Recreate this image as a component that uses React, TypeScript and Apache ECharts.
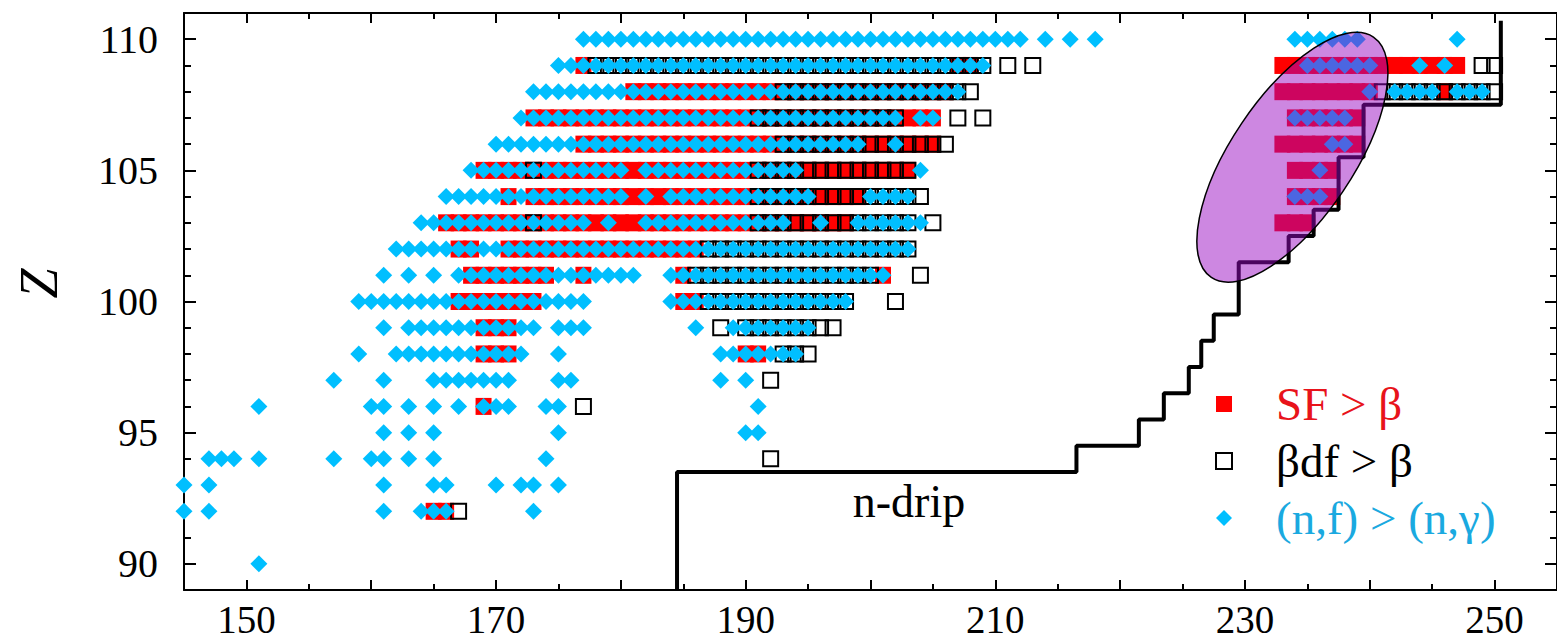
import React, { useEffect, useRef } from "react";
import * as echarts from "echarts";

// ---- axes ----
const X_MIN = 145;
const X_MAX = 255;
const Y_MIN = 89;
const Y_MAX = 111;
const xMajorTicks = [150, 160, 170, 180, 190, 200, 210, 220, 230, 240, 250];
const xMinorTicks = [155, 165, 175, 185, 195, 205, 215, 225, 235, 245];
const xTickLabels = [150, 170, 190, 210, 230, 250];
const yMajorTicks = [90, 95, 100, 105, 110];
const yMinorTicks = [90, 91, 92, 93, 94, 95, 96, 97, 98, 99, 100, 101, 102, 103, 104, 105, 106, 107, 108, 109, 110];
const yTickLabels = [90, 95, 100, 105, 110];

// ---- data: per Z row, list of N values (a-b = every N from a to b) ----
const sfRows: [number, string][] = [
  [109, "177,207,208,233-247"],
  [108, "181-206,233-240,246"],
  [107, "173-205,234-239"],
  [106, "177-205,233-239"],
  [105, "169-203,234-237"],
  [104, "171,173-199,234-237"],
  [103, "166-198,233-235"],
  [102, "167,168,171-186"],
  [101, "168-174,177,185,201"],
  [100, "167-173,185,186"],
  [99, "169-171"],
  [98, "169-171,190,191"],
  [96, "169"],
  [92, "165,166"],
];

const bdfRows: [number, string][] = [
  [109, "178-209,211,213,249,250"],
  [108, "193-208,241-250"],
  [107, "191-202,207,209"],
  [106, "193-206"],
  [105, "173,191-203"],
  [104, "191-204"],
  [103, "173,191-203,205"],
  [102, "187-203"],
  [101, "186-200,204"],
  [100, "187-198,202"],
  [99, "188,190-197"],
  [98, "193-195"],
  [97, "192"],
  [96, "177"],
  [94, "192"],
  [92, "167"],
];

const nfRows: [number, string][] = [
  [110, "177-212,214,216,218,234-239,247"],
  [109, "175-209,235-240,244,246"],
  [108, "173-207,240,242-245,247-249"],
  [107, "172-202,204,205,234-238"],
  [106, "170-199,202,237,238"],
  [105, "168-180,182-194,204,236"],
  [104, "166-180,182,184-195,200-203,234-236"],
  [103, "164-177,179,182-193,196,199-204"],
  [102, "162-203"],
  [101, "161,163,165,167-181,184-201"],
  [100, "159-177,184-198"],
  [99, "161,163-173,175-177,186,189-195"],
  [98, "159,162-172,175,188-194"],
  [97, "157,161,165-171,175,176,188,190"],
  [96, "151,160,161,163,165,167,169-171,174,175,191"],
  [95, "161,163,165,175,190,191"],
  [94, "147-149,151,157,160,161,163,165,174"],
  [93, "145,147,161,165,166,170,172,173,175"],
  [92, "145,147,161,164-166,173"],
  [90, "151"],
];

// neutron drip line (step outline)
const dripN = [184.5, 184.5, 216.5, 216.5, 221.5, 221.5, 223.5, 223.5, 225.5, 225.5, 226.5, 226.5, 227.5, 227.5, 229.5, 229.5, 233.5, 233.5, 235.5, 235.5, 237.5, 237.5, 239.5, 239.5, 250.5, 250.5];
const dripZ = [89, 93.5, 93.5, 94.5, 94.5, 95.5, 95.5, 96.5, 96.5, 97.5, 97.5, 98.5, 98.5, 99.5, 99.5, 101.5, 101.5, 102.5, 102.5, 103.5, 103.5, 105.5, 105.5, 107.5, 107.5, 110.7];

// highlighted region (ellipse centre in N, Z)
const ellipseCenter = [233.8, 105.5];

const legendNames = ["SF > β", "βdf > β", "(n,f) > (n,γ)"];
const legendColors = ["#e8131b", "#000000", "#1aa9e0"];

const SERIF = '"Liberation Serif", "Times New Roman", serif';

function expand(s: string): number[] {
  const out: number[] = [];
  s.split(",").forEach((part) => {
    const p = part.trim();
    if (!p) return;
    if (p.includes("-")) {
      const [a, b] = p.split("-").map(Number);
      for (let n = a; n <= b; n++) out.push(n);
    } else out.push(Number(p));
  });
  return out;
}

function toPoints(rows: [number, string][]): number[][] {
  const pts: number[][] = [];
  rows.forEach(([z, s]) => expand(s).forEach((n) => pts.push([n, z])));
  return pts;
}

export default function App() {
  const ref = useRef<HTMLDivElement>(null);

  useEffect(() => {
    document.body.style.margin = "0";
    if (!ref.current) return;
    const chart = echarts.init(ref.current, null, { renderer: "svg" });

    const axisLineStyle = { color: "#000", width: 2 };
    const tickLine = { color: "#000", width: 2 };
    const baseX = {
      type: "value" as const,
      min: X_MIN,
      max: X_MAX,
      splitLine: { show: false },
      axisLabel: { show: false },
    };
    const baseY = {
      type: "value" as const,
      min: Y_MIN,
      max: Y_MAX,
      splitLine: { show: false },
      axisLabel: { show: false },
    };

    const option: any = {
      animation: false,
      grid: { left: 184, top: 13, width: 1375, height: 577, containLabel: false },
      xAxis: [
        {
          ...baseX,
          position: "bottom",
          axisLine: { show: true, lineStyle: axisLineStyle },
          axisTick: { show: true, inside: true, length: 10, customValues: xMajorTicks, lineStyle: tickLine },
          axisLabel: {
            show: true,
            customValues: xTickLabels,
            fontSize: 39,
            lineHeight: 34,
            fontFamily: SERIF,
            color: "#000",
            margin: 12,
          },
        },
        {
          ...baseX,
          position: "bottom",
          axisLine: { show: false },
          axisTick: { show: true, inside: true, length: 6, customValues: xMinorTicks, lineStyle: tickLine },
        },
        {
          ...baseX,
          position: "top",
          axisLine: { show: true, lineStyle: axisLineStyle },
          axisTick: { show: true, inside: true, length: 10, customValues: xMajorTicks, lineStyle: tickLine },
        },
        {
          ...baseX,
          position: "top",
          axisLine: { show: false },
          axisTick: { show: true, inside: true, length: 6, customValues: xMinorTicks, lineStyle: tickLine },
        },
      ],
      yAxis: [
        {
          ...baseY,
          position: "left",
          axisLine: { show: true, lineStyle: axisLineStyle },
          axisTick: { show: true, inside: true, length: 12, customValues: yMajorTicks, lineStyle: tickLine },
          axisLabel: {
            show: true,
            customValues: yTickLabels,
            fontSize: 40,
            fontFamily: SERIF,
            color: "#000",
            margin: 26,
            padding: [0, 0, 16, 0],
          },
          name: "Z",
          nameLocation: "middle",
          nameRotate: 90,
          nameGap: 118,
          nameTextStyle: {
            fontSize: 54,
            fontStyle: "italic",
            fontFamily: SERIF,
            color: "#000",
            padding: [0, 0, 0, 36],
          },
        },
        {
          ...baseY,
          position: "left",
          axisLine: { show: false },
          axisTick: { show: true, inside: true, length: 7, customValues: yMinorTicks, lineStyle: tickLine },
        },
        {
          ...baseY,
          position: "right",
          axisLine: { show: true, lineStyle: axisLineStyle },
          axisTick: { show: true, inside: true, length: 12, customValues: yMajorTicks, lineStyle: tickLine },
        },
        {
          ...baseY,
          position: "right",
          axisLine: { show: false },
          axisTick: { show: true, inside: true, length: 7, customValues: yMinorTicks, lineStyle: tickLine },
        },
      ],
      legend: {
        data: legendNames.map((name, i) => ({ name, textStyle: { color: legendColors[i] } })),
        orient: "vertical",
        left: 1215,
        top: 379,
        padding: 0,
        itemWidth: 16,
        itemHeight: 16,
        itemGap: 7,
        selectedMode: false,
        textStyle: {
          fontSize: 47,
          fontFamily: SERIF,
          lineHeight: 50,
          padding: [0, 0, 0, 39],
        },
      },
      graphic: [
        {
          type: "text",
          x: 909,
          y: 501,
          z: 100,
          style: {
            text: "n-drip",
            fontSize: 46,
            fontFamily: SERIF,
            fill: "#000",
            textAlign: "center",
            textVerticalAlign: "middle",
            align: "center",
            verticalAlign: "middle",
          },
        },
      ],
      series: [
        {
          name: legendNames[0],
          type: "scatter",
          data: toPoints(sfRows),
          symbol: "rect",
          symbolSize: [16, 17],
          itemStyle: { color: "#ff0000", opacity: 1 },
          z: 2,
          clip: false,
        },
        {
          name: legendNames[1],
          type: "scatter",
          data: toPoints(bdfRows),
          symbol: "rect",
          symbolSize: 15,
          itemStyle: { color: "rgba(0,0,0,0)", borderColor: "#000", borderWidth: 2, opacity: 1 },
          z: 3,
          clip: false,
        },
        {
          name: legendNames[2],
          type: "scatter",
          data: toPoints(nfRows),
          symbol: "diamond",
          symbolSize: 17,
          itemStyle: { color: "#00bfff", opacity: 1 },
          z: 4,
          clip: false,
        },
        {
          name: "n-drip",
          type: "line",
          data: dripN.map((n, i) => [n, dripZ[i]]),
          symbol: "none",
          lineStyle: { color: "#000", width: 4 },
          z: 5,
          silent: true,
        },
        {
          name: "region",
          type: "custom",
          data: [ellipseCenter],
          z: 6,
          silent: true,
          renderItem: (params: any, api: any) => {
            const c = api.coord([api.value(0), api.value(1)]);
            return {
              type: "ellipse",
              x: c[0],
              y: c[1],
              rotation: (56 * Math.PI) / 180,
              shape: { cx: 0, cy: 0, rx: 145, ry: 61 },
              style: { fill: "rgba(153,10,194,0.49)", stroke: "#000", lineWidth: 1.5 },
            };
          },
        },
      ],
    };

    chart.setOption(option);
    return () => chart.dispose();
  }, []);

  return <div ref={ref} style={{ width: 1557, height: 643 }} />;
}
